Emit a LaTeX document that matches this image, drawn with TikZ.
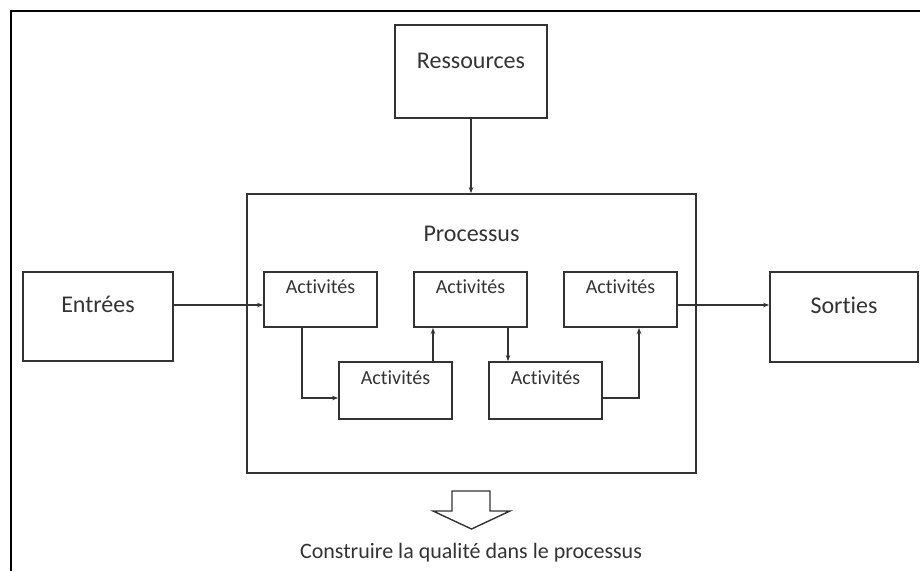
\documentclass[tikz,border=0pt]{standalone}
\usepackage{fontspec}
\setmainfont{Carlito}[RawFeature=-liga]
\usetikzlibrary{arrows.meta}

\definecolor{ink}{HTML}{333333}
\definecolor{txt}{HTML}{333333}

\tikzset{
  box/.style={draw=ink, line width=1.8pt, rectangle, inner sep=0pt},
  boxtext/.style={anchor=base, text=txt, inner sep=0pt},
  bigtxt/.style={boxtext, font=\fontsize{24}{28}\selectfont},
  smalltxt/.style={boxtext, font=\fontsize{20}{24}\selectfont},
  act/.style={box, minimum width=113pt},
  conn/.style={draw=ink, line width=1.2pt, -{Stealth[length=6pt,width=4.5pt]}},
}

\begin{document}
\begin{tikzpicture}[x=1pt, y=-1pt]
  \useasboundingbox (0,0) rectangle (920,571);

  % frame (left and top edges)
  \draw[line width=2.2pt, black] (11,571) -- (11,11) -- (920,11);

  % outer boxes
  \node[box, minimum width=152pt, minimum height=93pt,
        label={[bigtxt, yshift=-44pt]north:Ressources}] (res) at (471,71.5) {};
  \node[box, minimum width=449pt, minimum height=279pt,
        label={[bigtxt, yshift=-48pt]north:Processus}] (proc) at (471.5,333.5) {};
  \node[box, minimum width=150pt, minimum height=89pt,
        label={[bigtxt, yshift=-41pt]north:Entrées}] (ent) at (98,316.5) {};
  \node[box, minimum width=148pt, minimum height=90pt,
        label={[bigtxt, yshift=-42pt]north:Sorties}] (sor) at (844,317) {};

  % activity boxes
  \node[act, minimum height=55pt, label={[smalltxt, yshift=-22pt]north:Activités}] (a1) at (320.5,299.5) {};
  \node[act, minimum height=55pt, label={[smalltxt, yshift=-22pt]north:Activités}] (a3) at (470.5,299.5) {};
  \node[act, minimum height=55pt, label={[smalltxt, yshift=-22pt]north:Activités}] (a5) at (620.5,299.5) {};
  \node[act, minimum height=57pt, label={[smalltxt, yshift=-23pt]north:Activités}] (a2) at (395.5,390.5) {};
  \node[act, minimum height=57pt, label={[smalltxt, yshift=-23pt]north:Activités}] (a4) at (545.5,390.5) {};

  % attachment points on the activity boxes
  \coordinate (a1in)   at ([yshift=-5.5pt]a1.west);
  \coordinate (a5out)  at ([yshift=-5.5pt]a5.east);
  \coordinate (a1out)  at ([xshift=-18.5pt]a1.south);
  \coordinate (a2in)   at ([yshift=-7.5pt]a2.west);
  \coordinate (a2out)  at ([xshift=37.5pt]a2.north);
  \coordinate (a3out)  at ([xshift=37.5pt]a3.south);
  \coordinate (a4out)  at ([yshift=-7.5pt]a4.east);
  \coordinate (a5in)   at ([xshift=18.5pt]a5.south);

  % connectors
  \draw[conn] (res.south) -- (res.south |- proc.north);
  \draw[conn] (ent.east |- a1in) -- (a1in);
  \draw[conn] (a5out) -- (sor.west |- a5out);
  \draw[conn] (a1out) |- (a2in);
  \draw[conn] (a2out) -- (a3.south -| a2out);
  \draw[conn] (a3out) -- (a4.north -| a3out);
  \draw[conn] (a4out) -| (a5in);

  % hollow arrow and conclusion
  \draw[draw=ink, line width=1.4pt, fill=white, line join=miter]
    (452,491) -- (490,491) -- (490,511) -- (510,511) -- (471.5,529)
    -- (433,511) -- (452,511) -- cycle;
  \node[anchor=base, text=txt, inner sep=0pt, font=\fontsize{22}{26}\selectfont]
    (concl) at (471,558) {Construire la qualité dans le processus};
\end{tikzpicture}
\end{document}
